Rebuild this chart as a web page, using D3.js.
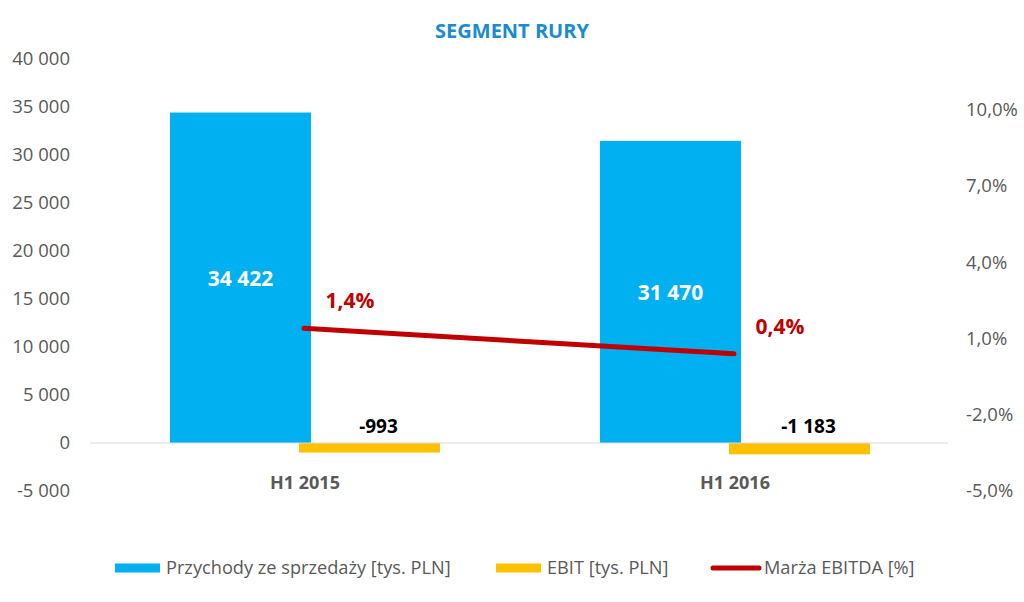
<!DOCTYPE html>
<html><head><meta charset="utf-8">
<script src="https://cdn.jsdelivr.net/npm/d3@7"></script>
<style>
html,body{margin:0;padding:0;background:#fff;}
svg text{font-family:"Open Sans",sans-serif;}
</style></head>
<body>
<svg id="c" width="1024" height="602"></svg>
<script>
const categories = ["H1 2015", "H1 2016"];
const revenue = [34422, 31470];
const ebit = [-993, -1183];
const margin = [1.4, 0.4];
const leftTicks = [-5000, 0, 5000, 10000, 15000, 20000, 25000, 30000, 35000, 40000];
const rightTicks = [-5, -2, 1, 4, 7, 10];
const seriesNames = ["Przychody ze sprzedaży [tys. PLN]", "EBIT [tys. PLN]", "Marża EBITDA [%]"];
const title = "SEGMENT RURY";

const svg = d3.select("#c");
const plotTop = 59, plotBottom = 491, plotLeft = 90, plotRight = 950;
const blue = "#00B0F0", yellow = "#FFC000", red = "#C00000", gray = "#595959";

const yL = d3.scaleLinear().domain([-5000, 40000]).range([plotBottom, plotTop]);
const yR = d3.scaleLinear().domain([-5, 12]).range([plotBottom, plotTop]);
const x0 = d3.scaleBand().domain(categories).range([plotLeft, plotRight]);
const bw = x0.bandwidth();
const barW = bw * 0.328;
const blueOff = bw * 0.186, yellowOff = bw * 0.486;

const fmtNum = v => {
  const s = Math.abs(v).toString().replace(/\B(?=(\d{3})+(?!\d))/g, " ");
  return (v < 0 ? "-" : "") + s;
};
const fmtPct = v => v.toFixed(1).replace(".", ",") + "%";

// title
svg.append("text").attr("x", 512).attr("y", 38).attr("text-anchor", "middle")
  .attr("font-size", 20).attr("font-weight", "bold").attr("fill", "#1A8BD3").text(title);

// left axis
const axL = d3.axisLeft(yL).tickValues(leftTicks).tickSize(0).tickPadding(0).tickFormat(fmtNum);
const gL = svg.append("g").attr("transform", "translate(70,0)").call(axL);
gL.select(".domain").remove();
gL.selectAll("text").attr("font-size", 18.5).attr("fill", gray).attr("font-family", "Open Sans");

// right axis
const axR = d3.axisRight(yR).tickValues(rightTicks).tickSize(0).tickPadding(0).tickFormat(fmtPct);
const gR = svg.append("g").attr("transform", "translate(966,0)").call(axR);
gR.select(".domain").remove();
gR.selectAll("text").attr("font-size", 18.5).attr("fill", gray).attr("font-family", "Open Sans");

// bars
svg.selectAll("rect.rev").data(categories).enter().append("rect").attr("class", "rev")
  .attr("x", c => x0(c) + blueOff).attr("width", barW)
  .attr("y", (c, i) => yL(revenue[i])).attr("height", (c, i) => yL(0) - yL(revenue[i]))
  .attr("fill", blue);
svg.selectAll("rect.ebit").data(categories).enter().append("rect").attr("class", "ebit")
  .attr("x", c => x0(c) + yellowOff).attr("width", barW)
  .attr("y", yL(0)).attr("height", (c, i) => yL(ebit[i]) - yL(0))
  .attr("fill", yellow);

// zero axis line
svg.append("line").attr("x1", plotLeft).attr("x2", plotRight - 2).attr("y1", yL(0)).attr("y2", yL(0))
  .attr("stroke", "#D9D9D9").attr("stroke-width", 1.2);

// category labels
svg.selectAll("text.cat").data(categories).enter().append("text").attr("class", "cat")
  .attr("x", c => x0(c) + bw / 2).attr("y", 489).attr("text-anchor", "middle")
  .attr("font-size", 18).attr("font-weight", "bold").attr("fill", gray).text(c => c);

// revenue labels
svg.selectAll("text.revl").data(categories).enter().append("text").attr("class", "revl")
  .attr("x", c => x0(c) + blueOff + barW / 2).attr("y", (c, i) => yL(revenue[i] / 2) + 8)
  .attr("text-anchor", "middle").attr("font-size", 21).attr("font-weight", "bold").attr("fill", "#fff")
  .text((c, i) => fmtNum(revenue[i]));

// ebit labels
svg.selectAll("text.ebl").data(categories).enter().append("text").attr("class", "ebl")
  .attr("x", c => x0(c) + yellowOff + barW / 2 + 9).attr("y", yL(0) - 10)
  .attr("text-anchor", "middle").attr("font-size", 19).attr("font-weight", "bold").attr("fill", "#000")
  .text((c, i) => fmtNum(ebit[i]));

// margin line
const line = d3.line().x(c => x0(c) + bw / 2 - 1).y((c, i) => yR(margin[i]));
svg.append("path").datum(categories).attr("d", line).attr("fill", "none")
  .attr("stroke", red).attr("stroke-width", 5).attr("stroke-linecap", "round");

svg.selectAll("text.ml").data(categories).enter().append("text").attr("class", "ml")
  .attr("x", c => x0(c) + bw / 2 + 45).attr("y", (c, i) => yR(margin[i]) - 20)
  .attr("text-anchor", "middle").attr("font-size", 21).attr("font-weight", "bold").attr("fill", red)
  .text((c, i) => fmtPct(margin[i]));

// legend
const lg = svg.append("g");
const legendX = [115, 496, 711];
const legY = 568;
lg.append("rect").attr("x", legendX[0]).attr("y", legY - 4.5).attr("width", 45).attr("height", 9).attr("fill", blue);
lg.append("rect").attr("x", legendX[1]).attr("y", legY - 4.5).attr("width", 45).attr("height", 9).attr("fill", yellow);
lg.append("line").attr("x1", legendX[2] + 2).attr("x2", legendX[2] + 48).attr("y1", legY).attr("y2", legY)
  .attr("stroke", red).attr("stroke-width", 5).attr("stroke-linecap", "round");
seriesNames.forEach((n, i) => {
  lg.append("text").attr("x", legendX[i] + 51 + (i === 2 ? 2 : 0)).attr("y", legY + 6)
    .attr("font-size", 18.2).attr("fill", gray).text(n);
});
</script>
</body></html>
